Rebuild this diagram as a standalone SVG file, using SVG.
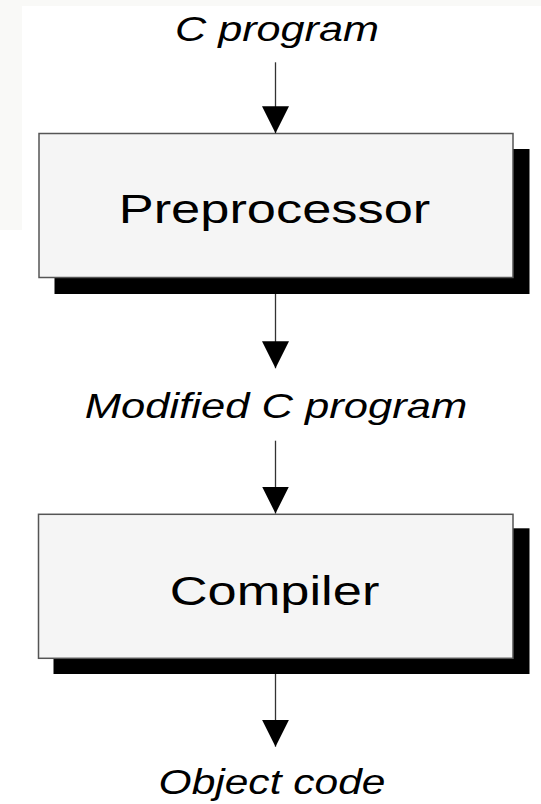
<svg xmlns="http://www.w3.org/2000/svg" width="541" height="804" viewBox="0 0 541 804">
  <style>
    .lbl { font-family: "Liberation Sans", Arial, sans-serif; font-style: italic; font-size: 35px; fill: #000; text-anchor: middle; }
    .name { font-family: "Liberation Sans", Arial, sans-serif; font-size: 40px; fill: #000; text-anchor: middle; }
    .box { fill: #f5f5f5; stroke: #555; stroke-width: 1.5; }
    .shadow { fill: #000; }
    .conn { stroke: #333; stroke-width: 1.3; fill: none; marker-end: url(#arrow); }
  </style>
  <defs>
    <marker id="arrow" markerUnits="userSpaceOnUse" markerWidth="27" markerHeight="27" refX="27" refY="13.5" orient="auto">
      <path d="M0,0 L27,13.5 L0,27 Z" fill="#000"/>
    </marker>
  </defs>
  <rect x="0" y="0" width="541" height="804" fill="#fff"/>
  <path d="M0,0 H541 V6 H22 V230 H0 Z" fill="#f9f9f7"/>

  <g id="label-c-program">
    <text class="lbl" transform="translate(277 40.5) scale(1.234 1)">C program</text>
  </g>

  <g id="preprocessor">
    <rect class="shadow" x="54.5" y="149" width="475" height="145"/>
    <rect class="box" x="39" y="133.5" width="474" height="144"/>
    <text class="name" transform="translate(274.5 222.7) scale(1.31 1)">Preprocessor</text>
  </g>

  <g id="label-modified">
    <text class="lbl" transform="translate(276 418) scale(1.244 1)">Modified C program</text>
  </g>

  <g id="compiler">
    <rect class="shadow" x="53.5" y="528.3" width="476" height="145.7"/>
    <rect class="box" x="38.5" y="514.3" width="474.5" height="144"/>
    <text class="name" transform="translate(274.5 605) scale(1.31 1)">Compiler</text>
  </g>

  <g id="label-object">
    <text class="lbl" transform="translate(272 793.5) scale(1.215 1)">Object code</text>
  </g>

  <g id="connectors">
    <line class="conn" x1="275.5" y1="62.3" x2="275.5" y2="133.3"/>
    <line class="conn" x1="275.5" y1="294" x2="275.5" y2="368.3"/>
    <line class="conn" x1="275.5" y1="440.7" x2="275.5" y2="513.5"/>
    <line class="conn" x1="275.5" y1="674" x2="275.5" y2="746.7"/>
  </g>
</svg>
